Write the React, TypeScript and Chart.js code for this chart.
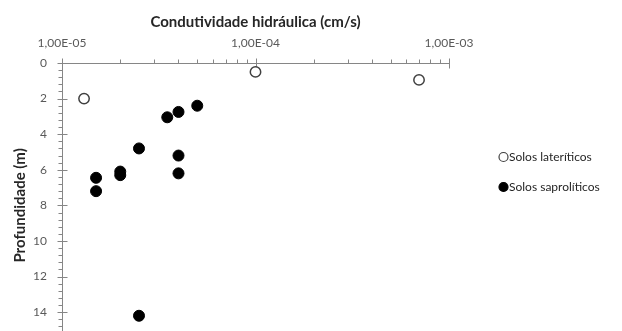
import React, { useEffect, useRef } from 'react';
import { Chart, registerables } from 'chart.js';

Chart.register(...registerables);

// ---- Data ----
const lateriticosK = [1.3e-5, 1.0e-4, 7.0e-4];
const lateriticosDepth = [2.0, 0.5, 0.95];

const saproliticosK = [5.0e-5, 4.0e-5, 3.5e-5, 2.5e-5, 4.0e-5, 2.0e-5, 2.0e-5, 4.0e-5, 1.5e-5, 1.5e-5, 2.5e-5];
const saproliticosDepth = [2.4, 2.75, 3.05, 4.8, 5.2, 6.1, 6.3, 6.2, 6.45, 7.2, 14.2];

const xDecades = [1e-5, 1e-4, 1e-3];
const yMajorTicks = [0, 2, 4, 6, 8, 10, 12, 14, 16];
const yMinorStep = 0.4;

const xTitle = 'Condutividade hidráulica (cm/s)';
const yTitle = 'Profundidade (m)';
const seriesLabels = ['Solos lateríticos', 'Solos saprolíticos'];

const FONT = 'Lato, "Liberation Sans", sans-serif';
const AXIS_COLOR = '#868686';
const LABEL_COLOR = '#595959';
const TITLE_COLOR = '#262626';

function fmtSci(v: number): string {
  const [m, e] = v.toExponential(2).split('e');
  const exp = parseInt(e, 10);
  const sign = exp < 0 ? '-' : '+';
  const abs = Math.abs(exp).toString().padStart(2, '0');
  return m.replace('.', ',') + 'E' + sign + abs;
}

const axisTicksPlugin = {
  id: 'axisTicks',
  beforeDatasetsDraw(chart: any) {
    const { ctx, chartArea, scales } = chart;
    const x = scales.x;
    const y = scales.y;
    ctx.save();
    ctx.strokeStyle = AXIS_COLOR;
    ctx.lineWidth = 1;
    ctx.beginPath();
    const top = Math.round(chartArea.top) + 0.5;
    for (const d of xDecades) {
      const px = Math.round(x.getPixelForValue(d)) + 0.5;
      ctx.moveTo(px, top - 5);
      ctx.lineTo(px, top + 5);
      if (d < xDecades[xDecades.length - 1]) {
        for (let m = 2; m <= 9; m++) {
          const mp = Math.round(x.getPixelForValue(m * d)) + 0.5;
          ctx.moveTo(mp, top - 4);
          ctx.lineTo(mp, top);
        }
      }
    }
    const left = Math.round(chartArea.left) + 0.5;
    for (const v of yMajorTicks) {
      const py = Math.round(y.getPixelForValue(v)) + 0.5;
      ctx.moveTo(left - 5, py);
      ctx.lineTo(left + 5, py);
    }
    const yMax = yMajorTicks[yMajorTicks.length - 1];
    for (let i = 1; i * yMinorStep < yMax; i++) {
      const v = i * yMinorStep;
      if (Math.abs(v / 2 - Math.round(v / 2)) < 1e-6) continue;
      const py = Math.round(y.getPixelForValue(v)) + 0.5;
      ctx.moveTo(left - 4, py);
      ctx.lineTo(left, py);
    }
    ctx.stroke();
    ctx.restore();
  },
};

const legendPlugin = {
  id: 'sideLegend',
  afterDraw(chart: any) {
    const { ctx } = chart;
    const rows = [157, 187];
    ctx.save();
    ctx.font = `12px ${FONT}`;
    ctx.textBaseline = 'middle';
    ctx.textAlign = 'left';
    chart.data.datasets.forEach((ds: any, i: number) => {
      const cy = rows[i];
      ctx.beginPath();
      ctx.arc(503.5, cy, 4.5, 0, Math.PI * 2);
      ctx.fillStyle = ds.backgroundColor;
      ctx.fill();
      ctx.lineWidth = 1.2;
      ctx.strokeStyle = ds.borderColor;
      ctx.stroke();
      ctx.fillStyle = TITLE_COLOR;
      ctx.fillText(ds.label, 509, cy + 0.5);
    });
    ctx.restore();
  },
};

export default function App() {
  const ref = useRef<HTMLCanvasElement | null>(null);

  useEffect(() => {
    if (!ref.current) return;
    const chart = new Chart(ref.current, {
      type: 'scatter',
      data: {
        datasets: [
          {
            label: seriesLabels[0],
            data: lateriticosK.map((k, i) => ({ x: k, y: lateriticosDepth[i] })),
            backgroundColor: '#ffffff',
            borderColor: '#404040',
            borderWidth: 1.5,
            pointRadius: 5.2,
            pointHoverRadius: 5.2,
          },
          {
            label: seriesLabels[1],
            data: saproliticosK.map((k, i) => ({ x: k, y: saproliticosDepth[i] })),
            backgroundColor: '#000000',
            borderColor: '#000000',
            borderWidth: 1,
            pointRadius: 5.5,
            pointHoverRadius: 5.5,
          },
        ],
      },
      options: {
        animation: false,
        responsive: false,
        events: [],
        layout: { padding: { left: 0, top: 0, right: 173, bottom: 8 } },
        plugins: {
          legend: { display: false },
          tooltip: { enabled: false },
        },
        scales: {
          x: {
            type: 'logarithmic',
            position: 'top',
            min: xDecades[0],
            max: xDecades[xDecades.length - 1],
            afterBuildTicks: (s: any) => {
              s.ticks = xDecades.map((v) => ({ value: v, major: true }));
            },
            afterFit: (s: any) => {
              s.height = 63;
            },
            ticks: {
              autoSkip: false,
              maxRotation: 0,
              padding: 6.8,
              color: LABEL_COLOR,
              font: { family: FONT, size: 12 },
              callback: (v: any) => fmtSci(Number(v)),
            },
            grid: {
              display: true,
              drawOnChartArea: false,
              drawTicks: true,
              tickLength: 6,
              tickColor: 'rgba(0,0,0,0)',
            },
            border: { display: true, color: AXIS_COLOR, width: 1 },
            title: {
              display: true,
              text: xTitle,
              color: TITLE_COLOR,
              font: { family: FONT, size: 15, weight: 'bold' },
              padding: { top: 13, bottom: 0 },
            },
          },
          y: {
            type: 'linear',
            position: 'left',
            reverse: true,
            min: yMajorTicks[0],
            max: yMajorTicks[yMajorTicks.length - 1],
            afterBuildTicks: (s: any) => {
              s.ticks = yMajorTicks.map((v) => ({ value: v }));
            },
            afterFit: (s: any) => {
              s.width = 62;
            },
            ticks: {
              autoSkip: false,
              padding: 7,
              color: LABEL_COLOR,
              font: { family: FONT, size: 12 },
              callback: (v: any) => String(v),
            },
            grid: {
              display: true,
              drawOnChartArea: false,
              drawTicks: true,
              tickLength: 8,
              tickColor: 'rgba(0,0,0,0)',
            },
            border: { display: true, color: AXIS_COLOR, width: 1 },
            title: {
              display: true,
              text: yTitle,
              color: TITLE_COLOR,
              font: { family: FONT, size: 15, weight: 'bold' },
              padding: { top: 11, bottom: 0 },
            },
          },
        },
      },
      plugins: [axisTicksPlugin, legendPlugin],
    } as any);
    return () => chart.destroy();
  }, []);

  return (
    <div
      style={{
        position: 'fixed',
        left: 0,
        top: 0,
        width: 622,
        height: 331,
        overflow: 'hidden',
        background: '#ffffff',
      }}
    >
      <canvas ref={ref} width={622} height={362} style={{ width: 622, height: 362, display: 'block' }} />
    </div>
  );
}
